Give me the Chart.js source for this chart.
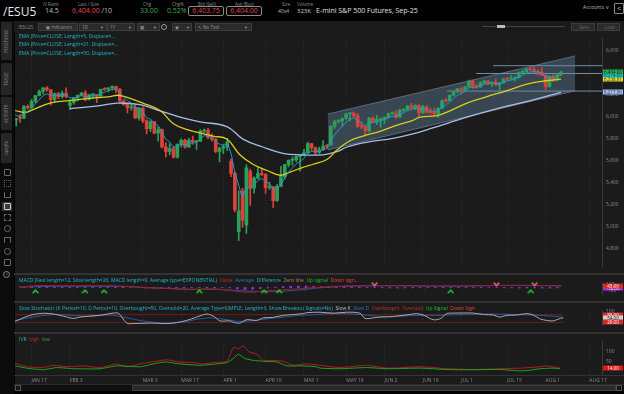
<!DOCTYPE html>
<html>
<head>
<meta charset="utf-8">
<script src="https://cdn.jsdelivr.net/npm/chart.js@4.4.1/dist/chart.umd.min.js"></script>
<style>
  html, body { margin: 0; padding: 0; background: #000; width: 624px; height: 394px; overflow: hidden;
    font-family: 'Open Sans', 'DejaVu Sans', sans-serif; }
  .a { position: absolute; white-space: nowrap; }
  canvas { position: absolute; background: #1b1b1b; }
  .lbl { font-size: 4.5px; color: #8d8d8d; top: 1px; }
  .val { font-size: 7px; top: 6px; }
  .box { border: 1px solid #8a8a8a; border-radius: 2px; height: 8px; top: 6px; font-size: 7px; line-height: 8px; text-align: center; color: #e24a4a; }
  .btn { background: #2b2b2b; border: 1px solid #3d3d3d; height: 6px; top: 23px; font-size: 4.5px; line-height: 6px; color: #9a9a9a; padding-left: 2px; box-sizing: content-box; }
  .tab { left: 1px; width: 11px; background: #262626; border-radius: 1px; color: #8a8a8a; font-size: 4.5px;
    writing-mode: vertical-rl; transform: rotate(180deg); text-align: center; line-height: 11px; }
  .ico { left: 4px; width: 5px; height: 5px; border: 1px solid #6a6a6a; border-radius: 1px; }
  .t { font-size: 5px; }
  .sep { left: 14px; width: 610px; background: #333; }
</style>
</head>
<body>

<!-- header -->
<div class="a" style="left:3px;top:3px;font-size:12px;color:#e8e8e8;">/ESU5</div>
<div class="a lbl" style="left:43px">IV Rank</div>
<div class="a val" style="left:45px;color:#bdbdbd">14.5</div>
<div class="a lbl" style="left:78px">Last / Size</div>
<div class="a val" style="left:72px;color:#e24a4a">6,404.00 <span style="color:#bdbdbd">/10</span></div>
<div class="a lbl" style="left:143px">Chg</div>
<div class="a val" style="left:140px;color:#3cb043">33.00</div>
<div class="a lbl" style="left:172px">Chg%</div>
<div class="a val" style="left:167px;color:#3cb043">0.52%</div>
<div class="a lbl" style="left:198px">Bid (Sell)</div>
<div class="a box" style="left:188px;width:34px">6,403.75</div>
<div class="a lbl" style="left:235px">Ask (Buy)</div>
<div class="a box" style="left:226px;width:34px">6,404.00</div>
<div class="a lbl" style="left:282px">Size</div>
<div class="a" style="left:278px;top:8px;font-size:5px;color:#bdbdbd">40x4</div>
<div class="a lbl" style="left:297px">Volume</div>
<div class="a" style="left:297px;top:7px;font-size:6px;color:#cfcfcf">323K</div>
<div class="a" style="left:316px;top:6px;font-size:7px;color:#e0e0e0">E-mini S&amp;P 500 Futures, Sep-25</div>
<div class="a" style="left:583px;top:4px;font-size:5px;color:#bdbdbd">Accounts &#8744;</div>
<div class="a" style="left:614px;top:3px;width:8px;height:9px;border:1px solid #8a8a8a;border-radius:1px;color:#ccc;font-size:7px;line-height:9px;text-align:center">&lt;</div>

<!-- toolbar -->
<div class="a" style="left:14px;top:21px;width:610px;height:10px;background:#1a1a1a;border-bottom:1px solid #2a2a2a"></div>
<div class="a" style="left:18px;top:23.5px;font-size:4.5px;color:#8d8d8d">/ESU25</div>
<div class="a btn" style="left:38px;width:36px;text-align:center">&#9635; Indicators</div>
<div class="a btn" style="left:79px;width:24px">1D <span style="float:right;padding-right:3px">&#9662;</span></div>
<div class="a btn" style="left:107px;width:24px">1Y <span style="float:right;padding-right:3px">&#9662;</span></div>
<div class="a btn" style="left:137px;width:19px">&#9638; <span style="float:right;padding-right:3px">&#9662;</span></div>
<div class="a" style="left:161px;top:24px;width:4px;height:4px;border:1px solid #9a9a9a;border-radius:50%"></div>
<div class="a btn" style="left:172px;width:16px">&#9673; <span style="float:right;padding-right:2px">&#9662;</span></div>
<div class="a btn" style="left:195px;width:53px">&#8598; No Tool <span style="float:right;padding-right:4px">&#9662;</span></div>
<div class="a" style="left:482px;top:26px;width:83px;height:1px;background:#444"></div>
<div class="a" style="left:497px;top:25px;width:8px;height:3px;background:#bbb"></div>
<div class="a btn" style="left:571px;width:20px;color:#666;text-align:center">Save</div>
<div class="a btn" style="left:597px;width:19px;color:#666;text-align:center">Load</div>

<!-- sidebar -->
<div class="a" style="left:0;top:21px;width:14px;height:373px;background:#0b0b0b"></div>
<div class="a tab" style="top:22px;height:38px">POSITIONS</div>
<div class="a tab" style="top:63px;height:32px">TRADE</div>
<div class="a tab" style="top:97px;height:33px">ACTIVITY</div>
<div class="a tab" style="top:133px;height:30px">tastyfx</div>
<div class="a ico" style="top:169px"></div>
<div class="a ico" style="top:180px;border-style:dotted"></div>
<div class="a ico" style="top:192px;border-top:none"></div>
<div class="a" style="left:2px;top:202px;width:10px;height:9px;background:#3a3a3a"></div>
<div class="a ico" style="top:203px;border-color:#cfcfcf"></div>
<div class="a ico" style="top:214px;border-style:dashed"></div>
<div class="a ico" style="top:225px;border-radius:50%"></div>
<div class="a ico" style="top:237px;border-bottom:none"></div>
<div class="a ico" style="top:248px;border-radius:50%"></div>
<div class="a ico" style="top:259px"></div>
<div class="a" style="left:3px;top:271px;width:5px;height:5px;border:1px solid #8a8a8a;border-radius:50%;font-size:4px;line-height:5px;text-align:center;color:#aaa">?</div>

<!-- panels -->
<canvas id="cPrice" width="609" height="242" style="left:15px;top:31px"></canvas>
<div class="a sep" style="top:273px;height:2px"></div>
<canvas id="cMacd" width="609" height="26" style="left:15px;top:275px"></canvas>
<div class="a sep" style="top:301px;height:2px"></div>
<canvas id="cStoch" width="609" height="29" style="left:15px;top:303px"></canvas>
<div class="a sep" style="top:332px;height:2px"></div>
<canvas id="cIvr" width="609" height="50" style="left:15px;top:334px"></canvas>
<div class="a sep" style="top:375px;height:1px"></div>

<!-- scrollbar -->
<div class="a" style="left:14px;top:384px;width:610px;height:6px;background:#111;border-top:1px solid #2c2c2c"></div>
<div class="a" style="left:15px;top:385px;width:4px;height:4px;border:1px solid #555;font-size:4px;line-height:4px;color:#888;text-align:center">&#8249;</div>
<div class="a" style="left:132px;top:385px;width:482px;height:4px;background:#2a2a2a;border:1px solid #3d3d3d"></div>
<div class="a" style="left:616px;top:385px;width:4px;height:4px;border:1px solid #555;font-size:4px;line-height:4px;color:#888;text-align:center">&#8250;</div>

<!-- study titles -->
<div class="a t" style="left:19px;top:33px;color:#22b8c8">EMA (Price=CLOSE, Length=5, Displace=...</div>
<div class="a t" style="left:19px;top:41px;color:#22b8c8">EMA (Price=CLOSE, Length=21, Displace=...</div>
<div class="a t" style="left:19px;top:49.5px;color:#22b8c8">EMA (Price=CLOSE, Length=50, Displace=...</div>
<div class="a t" style="left:19px;top:277px;color:#22b8c8">MACD (Fast length=12, Slow length=26, MACD length=9, Average type=EXPONENTIAL)
  <span style="color:#c23030">&nbsp;Value</span> <span style="color:#2a70c0">&nbsp;Average</span>
  <span style="color:#22b8c8">&nbsp;Difference</span> <span style="color:#b08080">&nbsp;Zero line</span>
  <span style="color:#22c022">&nbsp;Up signal</span> <span style="color:#e04545">&nbsp;Down sign...</span></div>
<div class="a t" style="left:19px;top:304.5px;color:#22b8c8">Slow Stochastic (K Period=10, D Period=10, Overbought=80, Oversold=20, Average Type=SIMPLE, Length=3, Show Breakout Signals=No)
  <span style="color:#bdbdbd">&nbsp;Slow K</span> <span style="color:#2a70c0">&nbsp;Slow D</span>
  <span style="color:#c23030">&nbsp;Overbought</span> <span style="color:#c23030">&nbsp;Oversold</span>
  <span style="color:#22c022">&nbsp;Up Signal</span> <span style="color:#e04545">&nbsp;Down Sign</span></div>
<div class="a t" style="left:19px;top:336px;color:#22b8c8">IVR <span style="color:#d02020">&nbsp;high</span> <span style="color:#22b022">&nbsp;low</span></div>

<script>
// daily bars, Jan 10 .. Aug 7 (bar index 0..143)
const opens = [6055,5967,5992,5983,6090,6077,6137,6189,6226,6259,
  6241,6152,6208,6179,6211,6100,6125,6168,6191,6213,
  6156,6196,6198,6182,6245,6244,6259,6272,6245,6140,
  6108,6078,6080,5985,6075,5960,5888,5952,5848,5880,
  5722,5680,5707,5629,5745,5782,5721,5782,5769,5773,
  5865,5874,5810,5792,5680,5710,5725,5590,5480,4950,
  5320,5010,5500,5345,5438,5480,5472,5351,5358,5233,
  5363,5451,5560,5600,5604,5636,5644,5669,5752,5715,
  5672,5696,5729,5740,5909,5952,5958,5982,6023,6029,
  6005,5910,5907,5868,5982,5949,5968,5972,5991,6025,
  6026,5994,6055,6061,6094,6077,6100,6032,6088,6038,
  6036,6023,6075,6146,6142,6191,6223,6250,6240,6269,
  6321,6272,6268,6305,6322,6302,6311,6286,6306,6342,
  6339,6348,6352,6401,6405,6431,6427,6408,6400,6375,
  6272,6364,6333,6379];
const highs = [6062,5982,6015,6100,6105,6154,6191,6240,6262,6270,
  6245,6212,6218,6230,6260,6150,6170,6195,6218,6235,
  6200,6205,6200,6248,6262,6262,6278,6275,6255,6155,
  6115,6120,6110,6078,6085,5970,5960,5955,5900,5885,
  5760,5750,5725,5750,5795,5790,5800,5820,5780,5880,
  5885,5890,5840,5800,5720,5740,5800,5610,5495,5320,
  5345,5560,5520,5450,5540,5530,5480,5400,5362,5380,
  5545,5565,5605,5630,5640,5650,5700,5765,5755,5720,
  5720,5780,5745,5915,5965,5970,5985,6025,6035,6040,
  6025,5950,5910,5990,5995,6010,5985,5995,6030,6040,
  6055,6065,6072,6100,6120,6105,6105,6100,6095,6075,
  6075,6080,6150,6160,6195,6232,6255,6262,6272,6330,
  6330,6290,6315,6330,6325,6315,6340,6310,6345,6355,
  6370,6360,6405,6420,6435,6445,6450,6425,6445,6380,
  6370,6380,6385,6412];
const lows = [5950,5913,5945,5978,6068,6072,6125,6185,6205,6228,
  6102,6130,6160,6165,6170,6060,6110,6140,6185,6140,
  6150,6165,6125,6175,6235,6225,6240,6215,6130,6100,
  6030,6055,5980,5965,5940,5840,5860,5840,5775,5710,
  5630,5650,5620,5620,5720,5710,5715,5745,5700,5770,
  5850,5795,5775,5670,5585,5660,5690,5450,5130,4870,
  4990,4935,5190,5300,5430,5460,5300,5335,5170,5225,
  5360,5430,5540,5555,5585,5500,5640,5660,5690,5650,
  5660,5690,5705,5735,5890,5940,5910,5975,5955,5990,
  5900,5890,5820,5860,5945,5925,5900,5935,5980,6015,
  5980,5990,6045,6050,6065,6060,6000,6025,6030,6025,
  6010,5990,6070,6130,6140,6185,6215,6215,6225,6265,
  6255,6255,6262,6295,6290,6270,6280,6240,6300,6325,
  6335,6320,6345,6395,6400,6415,6400,6375,6370,6240,
  6265,6315,6320,6370];
const closes = [5967,5976,5983,6090,6077,6137,6189,6226,6259,6241,
  6152,6208,6179,6211,6180,6125,6168,6191,6213,6156,
  6196,6198,6182,6245,6244,6259,6272,6245,6140,6108,
  6078,6080,5985,6075,5960,5888,5952,5848,5880,5722,
  5680,5707,5629,5745,5782,5721,5782,5769,5773,5865,
  5874,5810,5792,5680,5710,5725,5765,5480,5149,5140,
  5055,5530,5345,5438,5480,5472,5351,5358,5233,5363,
  5451,5560,5600,5604,5636,5644,5669,5752,5715,5672,
  5696,5729,5725,5909,5952,5958,5982,6023,6029,6005,
  5910,5907,5868,5982,5949,5972,5972,5991,6025,6026,
  5994,6055,6061,6094,6077,6100,6032,6088,6038,6036,
  6023,6075,6142,6142,6191,6223,6250,6240,6269,6321,
  6272,6268,6305,6322,6302,6311,6286,6306,6339,6339,
  6348,6352,6401,6405,6431,6427,6408,6400,6375,6272,
  6364,6333,6379,6404];
const ema5 = [6025,6009,6000,6030,6046,6076,6114,6151,6187,6205,
  6187,6194,6189,6196,6191,6169,6169,6176,6188,6177,
  6183,6188,6186,6206,6219,6232,6245,6245,6210,6176,
  6143,6122,6076,6076,6037,5987,5975,5933,5915,5851,
  5794,5765,5720,5728,5746,5738,5753,5758,5763,5797,
  5823,5819,5810,5767,5748,5740,5748,5659,5489,5373,
  5267,5355,5352,5381,5414,5433,5406,5390,5338,5346,
  5381,5441,5494,5531,5566,5592,5618,5663,5680,5677,
  5683,5698,5707,5774,5833,5875,5911,5948,5975,5985,
  5960,5942,5917,5939,5942,5952,5959,5970,5988,6001,
  5999,6018,6032,6053,6061,6074,6060,6069,6059,6051,
  6042,6053,6083,6103,6132,6162,6191,6207,6228,6259,
  6263,6265,6278,6293,6296,6301,6296,6299,6312,6321,
  6330,6337,6358,6374,6393,6404,6405,6403,6394,6353,
  6357,6349,6359,6374];
// [bar index, value]
const ema21 = [[0.7,6053],[3.3,6035],[5.4,6061],[9.8,6121],[15,6144],[20.2,6164],[25.4,6179],[27.5,6192],
  [29.9,6173],[34,6121],[38.5,6053],[41.9,5935],[45.5,5879],[48.9,5850],[52.3,5821],[55.9,5793],
  [59.3,5650],[62.7,5564],[66.4,5507],[69.8,5464],[72.4,5493],[75.8,5536],[78.4,5564],[82,5607],
  [84.6,5693],[88,5778],[91.4,5821],[95.8,5864],[100.3,5921],[104.4,5964],[106.3,5993],[110.7,6007],
  [114.1,6050],[118.5,6121],[123.7,6179],[129,6235],[134.1,6293],[137.5,6316],[143,6338.61]];
const ema50 = [[15,6070],[22.8,6098],[27.3,6121],[33.3,6107],[38.5,6050],[43.7,5993],[48.9,5950],
  [55.9,5907],[60.1,5793],[65.3,5721],[70.5,5664],[75,5650],[81,5650],[84.6,5678],[87.2,5721],
  [92.4,5764],[99.2,5800],[104.4,5840],[109.6,5895],[118.5,5993],[127.1,6078],[135.8,6150],[143,6217.56]];
// drawn channel and price levels
const channelTop = [[82.2,6021],[146.7,6550]];
const channelBottom = [[82.2,5693],[146.7,6233]];
const levelPrices = [6461, 6390, 6230];
const levelStarts = [125.3, 120.9, 113.3];

const macdValue = [[0.7,4],[5.4,57],[12.4,57],[22.8,57],[25.4,53],[31.5,14],[35.9,-14],[40.3,-36],[45.5,-67],
  [51.5,-43],[56.7,-100],[59.3,-139],[61.9,-143],[64.5,-114],[69.8,-71],[75,-29],[80.2,14],[88,50],
  [101,57],[114.1,47],[127.1,67],[135.8,67],[143,43.66]];
const macdAvg = [[0.7,14],[5.4,29],[12.4,39],[22.8,36],[28,36],[33.3,7],[38.5,-21],[45.5,-50],[52.8,-57],
  [59.3,-100],[65.1,-129],[69.8,-114],[75,-67],[80.2,-4],[88,43],[101,53],[114.1,43],[127.1,61],
  [135.8,58],[143,55]];
// every second bar, from bar 0
const macdDiff = [5,10,18,25,28,22,18,14,10,12,14,16,18,16,8,0,-8,-18,-24,-26,
  -22,-18,-10,-4,4,10,8,0,-10,-40,-60,-50,-30,-10,10,30,40,42,40,32,
  26,22,26,28,24,14,4,-6,-10,-12,-14,-12,-10,-8,-6,-4,-6,-8,-4,-2,
  2,4,2,-2,-6,-10,-14,-12,-10,-14,-16,-12];
const macdUpBars = [5,18,23,48,65,69,114,135];
const macdDownBars = [94,126,136];

const slowK = [[0.7,28],[3.3,61],[5.4,81],[8.1,91],[10.7,85],[13.3,68],[15.9,51],[17.6,61],[19.8,68],[22.8,75],
  [25.4,88],[27.6,91],[29.8,15],[31.5,11],[35.9,15],[40.2,11],[42.8,19],[45.4,35],[48,61],[50.7,85],
  [52.4,68],[54.1,32],[56.7,32],[57.6,21],[59.3,15],[61.1,41],[63.7,35],[65.4,55],[68,59],[70.6,75],
  [73.2,81],[75.8,88],[76.7,95],[80.2,99],[83.7,91],[87.1,99],[90.6,91],[91.9,51],[94.1,55],[95.8,61],
  [98.4,64],[101,72],[103.6,81],[105.4,88],[107.1,77],[109.7,41],[111.5,48],[113.2,88],[114.9,92],[120.2,92],
  [122.8,81],[125.4,77],[127.1,61],[128.9,75],[131.5,77],[134.1,88],[135.8,77],[137.5,48],[139.3,35],[141,32],
  [142.8,51],[143.6,54]];
const slowD = [[0.7,35],[5.4,61],[10.7,81],[14.2,77],[19.4,68],[25.4,77],[28.9,61],[33.3,35],[37.6,19],[41.9,15],
  [45.4,28],[48.9,48],[52.4,55],[55.9,41],[59.3,28],[62.8,35],[66.3,48],[70.6,61],[75,75],[79.3,81],
  [83.7,91],[90.6,81],[97.6,64],[103.6,72],[111.5,75],[116.7,81],[123.6,85],[130.6,81],[135.8,77],[141,68],
  [143.6,61]];

const ivrHigh = [[0.7,40],[3.7,21],[8.1,17],[10.7,29],[14.2,21],[18.5,26],[22.8,17],[27.2,36],[29.8,21],[33.3,36],
  [37.6,50],[40.2,57],[43.7,46],[47.2,43],[49.8,36],[52.4,43],[55.9,50],[57.6,121],[58.9,114],[60.2,129],
  [61.5,100],[63.7,86],[65.4,54],[68,54],[70.6,50],[73.2,29],[76.7,36],[80.2,29],[85.4,17],[92.4,29],
  [97.6,14],[106.3,21],[109.7,17],[113.2,11],[120.2,7],[127.1,11],[132.3,14],[137.5,21],[139.3,26],[142.8,14]];
const ivrLow = [[0.7,26],[3.7,14],[8.1,6],[11.5,17],[15.9,11],[22.8,11],[27.2,26],[33.3,21],[37.6,40],[40.2,46],
  [43.7,36],[48.9,29],[53.3,36],[55.9,43],[57.6,64],[58.9,86],[60.6,64],[62.8,54],[65.4,50],[68.9,46],
  [71.5,26],[75,26],[79.3,21],[80.2,14],[85.4,11],[92.4,17],[97.6,11],[106.3,14],[113.2,7],[120.2,6],
  [127.1,7],[132.3,0],[134.9,3],[137.5,11],[141,14],[142.8,11]];

const tickBars = [5,15,34,44,55,66,76,87,97,107,117,129,139,150.4];
const tickLabels = ['JAN 17','FEB 3','MAR 3','MAR 17','APR 1','APR 16','MAY 1','MAY 16','JUN 2','JUN 16','JUL 1','JUL 15','AUG 1','AUG 17'];
const priceTicks = [4800,5000,5200,5400,5600,5800,6000,6200,6400,6600];

// ---------------------------------------------------------------
Chart.defaults.font.family = "'Open Sans', 'DejaVu Sans', sans-serif";
Chart.defaults.font.size = 5;
Chart.defaults.color = '#8a8a8a';

const X_MIN = 0.68, X_MAX = 153.7;
const GREEN = '#2e9e58', RED = '#dc4338';
const pts = arr => arr.map(p => ({ x: p[0], y: p[1] }));
const fmt2 = v => v.toLocaleString('en-US', { minimumFractionDigits: 2, maximumFractionDigits: 2 });

function xAxis(showLabels) {
  return {
    type: 'linear', min: X_MIN, max: X_MAX, offset: false,
    afterBuildTicks: s => { s.ticks = tickBars.map(v => ({ value: v })); },
    afterFit: s => { s.height = showLabels ? 9 : 0; },
    grid: { color: '#303030', drawTicks: false, offset: false },
    border: { display: false, dash: [1, 2] },
    ticks: { display: showLabels, autoSkip: false, maxRotation: 0, align: 'start', padding: 3,
      color: '#8a8a8a', callback: (v, i) => tickLabels[i] }
  };
}

function yAxis(min, max, vals, fmt) {
  return {
    position: 'right', min: min, max: max,
    afterBuildTicks: s => { s.ticks = vals.map(v => ({ value: v })); },
    afterFit: s => { s.width = 22; },
    grid: { display: false, drawTicks: false },
    border: { display: true, color: '#3a3a3a' },
    ticks: { padding: 4, color: '#8a8a8a', callback: fmt }
  };
}

// value boxes on the right scale
const tagPlugin = {
  id: 'tags',
  afterDraw(chart, args, opts) {
    const g = chart.ctx, ys = chart.scales.y, x0 = chart.chartArea.right + 1;
    g.save();
    g.font = "4.5px 'Open Sans', sans-serif";
    g.textAlign = 'center';
    g.textBaseline = 'middle';
    (opts.items || []).forEach(t => {
      const py = Math.round(ys.getPixelForValue(t.value));
      g.fillStyle = t.bg;
      g.fillRect(x0, py - 2.5, 20, 5);
      g.fillStyle = t.fg;
      g.fillText(t.text, x0 + 10, py + 0.3);
    });
    g.restore();
  }
};

function chevron(color, up) {
  const c = document.createElement('canvas');
  c.width = 7; c.height = 5;
  const g = c.getContext('2d');
  g.strokeStyle = color; g.lineWidth = 1.4;
  g.beginPath();
  if (up) { g.moveTo(0.7, 4.3); g.lineTo(3.5, 1.2); g.lineTo(6.3, 4.3); }
  else { g.moveTo(0.7, 0.7); g.lineTo(3.5, 3.8); g.lineTo(6.3, 0.7); }
  g.stroke();
  return c;
}

function makeChart(id, datasets, yCfg, showX, tags) {
  return new Chart(document.getElementById(id), {
    type: 'line',
    data: { datasets: datasets },
    options: {
      responsive: false, animation: false, devicePixelRatio: 1, events: [],
      layout: { padding: 0 },
      scales: { x: xAxis(showX), y: yCfg },
      plugins: { legend: { display: false }, tooltip: { enabled: false }, tags: { items: tags } }
    },
    plugins: [tagPlugin]
  });
}

const line = (data, color, width, order, extra) => Object.assign({
  type: 'line', data: data, borderColor: color, borderWidth: width, pointRadius: 0,
  tension: 0.3, fill: false, order: order
}, extra || {});

// ---- price panel
const candleColors = closes.map((c, i) => c >= opens[i] ? GREEN : RED);
const priceSets = [
  line(ema5.map((v, i) => ({ x: i, y: v })), '#1f9fd8', 1, 1, { tension: 0.2 }),
  line(pts(ema21), '#d8ce1c', 1.3, 2, { tension: 0.4 }),
  line(pts(ema50), '#a8bde8', 1.3, 3, { tension: 0.4 }),
  { type: 'bar', data: closes.map((c, i) => ({ x: i, y: [opens[i], c] })), backgroundColor: candleColors,
    barThickness: 3, minBarLength: 1, grouped: false, order: 4 },
  { type: 'bar', data: closes.map((c, i) => ({ x: i, y: [lows[i], highs[i]] })), backgroundColor: candleColors,
    barThickness: 1, grouped: false, order: 5 }
];
levelPrices.forEach((p, k) => {
  priceSets.push(line([{ x: levelStarts[k], y: p }, { x: X_MAX, y: p }], '#6e8ea8', 1, 8, { tension: 0 }));
});
priceSets.push(line(pts(channelTop), 'rgba(150,180,205,0.55)', 0.8, 10, { tension: 0 }));
priceSets.push(line(pts(channelBottom), 'rgba(150,180,205,0.55)', 0.8, 10,
  { tension: 0, fill: '-1', backgroundColor: 'rgba(112,152,188,0.34)' }));

const last = a => a[a.length - 1];
makeChart('cPrice', priceSets,
  yAxis(4638, 6713, priceTicks, v => v.toLocaleString('en-US')), false,
  [
    { value: last(ema50)[1], text: fmt2(last(ema50)[1]), bg: '#a8c0ee', fg: '#1a2a50' },
    { value: last(ema21)[1], text: fmt2(last(ema21)[1]), bg: '#e6e02a', fg: '#222' },
    { value: last(ema5), text: fmt2(last(ema5)), bg: '#1fc4d6', fg: '#0a2a30' },
    { value: last(closes), text: fmt2(last(closes)), bg: '#28ae5e', fg: '#062a12' }
  ]);

// ---- MACD panel
const upImg = chevron('#1fd41f', true), downImg = chevron('#f0707c', false);
makeChart('cMacd', [
  { type: 'bar', data: macdDiff.map((v, k) => ({ x: k * 2, y: v })), backgroundColor: '#9b2cf0',
    barThickness: 2, grouped: false, order: 5 },
  line(pts(macdValue), '#a81c1c', 1, 2, { tension: 0.4 }),
  line(pts(macdAvg), '#1c5c9c', 1, 3, { tension: 0.4 }),
  line(macdUpBars.map(i => ({ x: i, y: -118 })), '#1fd41f', 0, 1, { showLine: false, pointStyle: upImg, pointRadius: 3 }),
  line(macdDownBars.map(i => ({ x: i, y: 100 })), '#f0707c', 0, 1, { showLine: false, pointStyle: downImg, pointRadius: 3 })
], yAxis(-200, 171, [-100, 100], v => String(v)), false, [
  { value: last(macdDiff), text: fmt2(last(macdDiff)), bg: '#9b2cf0', fg: '#fff' },
  { value: last(macdValue)[1], text: fmt2(last(macdValue)[1]), bg: '#d42a2a', fg: '#fff' }
]);

// ---- Slow stochastic panel
makeChart('cStoch', [
  line(pts(slowK), '#a9a9a9', 1, 1, { tension: 0.3 }),
  line(pts(slowD), '#1f5ca8', 1, 2, { tension: 0.4 }),
  line([{ x: X_MIN, y: 80 }, { x: 143.6, y: 80 }], '#6e1c1c', 1, 3, { tension: 0 }),
  line([{ x: X_MIN, y: 20 }, { x: 143.6, y: 20 }], '#6e1c1c', 1, 3, { tension: 0 })
], yAxis(0, 116, [100], v => String(v)), false, [
  { value: 80, text: '80.00', bg: '#d42a2a', fg: '#fff' },
  { value: last(slowK)[1], text: fmt2(last(slowK)[1]), bg: '#cfcfcf', fg: '#222' },
  { value: 20, text: '20.00', bg: '#d42a2a', fg: '#fff' }
]);

// ---- IVR panel (carries the date axis)
makeChart('cIvr', [
  line(pts(ivrHigh), '#b41c1c', 1, 2, { tension: 0.2 }),
  line(pts(ivrLow), '#22a022', 1, 1, { tension: 0.2 })
], yAxis(-21.4, 154.3, [50, 100], v => String(v)), true, [
  { value: last(ivrHigh)[1], text: fmt2(last(ivrHigh)[1]), bg: '#e01a1a', fg: '#fff' }
]);
</script>
</body>
</html>
